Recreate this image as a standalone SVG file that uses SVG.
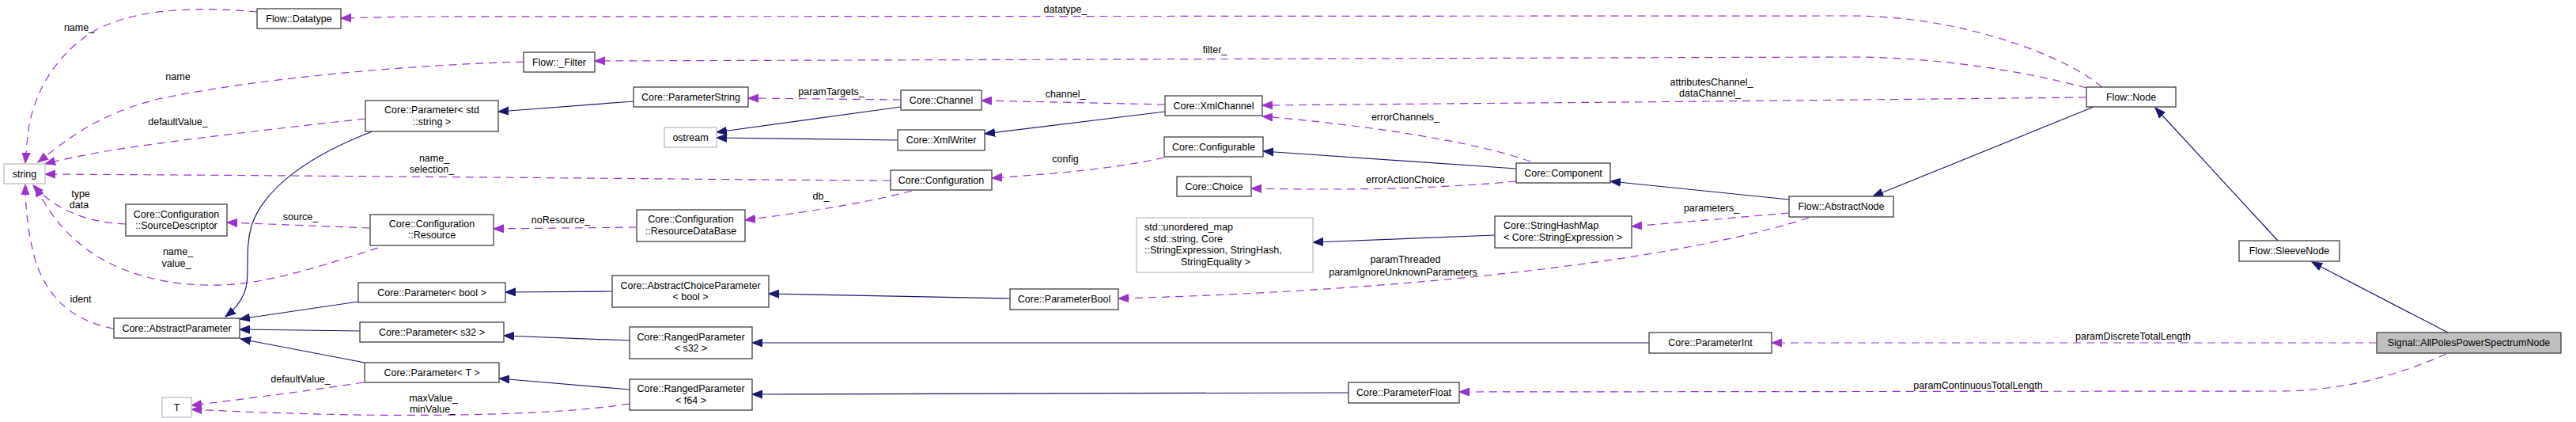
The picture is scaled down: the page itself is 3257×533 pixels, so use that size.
<svg xmlns="http://www.w3.org/2000/svg" width="3257" height="533" viewBox="0 0 3257 533">
<style>
text{font-family:"Liberation Sans",Arial,sans-serif;font-size:12.5px;fill:#000}
.n rect{fill:#fff;stroke:#404040;stroke-width:1.3}
.n text{text-anchor:middle}
.ext rect{stroke:#bfbfbf}
.main rect{fill:#bfbfbf}
.inh{fill:none;stroke:#191970;stroke-width:1.2;marker-end:url(#ab)}
.use{fill:none;stroke:#9a32cd;stroke-width:1.2;stroke-dasharray:10,7;marker-end:url(#ap)}
.lbl text{text-anchor:middle}
.left text{text-anchor:start}
</style>
<defs>
<marker id="ab" markerUnits="userSpaceOnUse" markerWidth="14" markerHeight="12" viewBox="0 0 14 12" refX="13" refY="6" orient="auto"><path d="M0,1 L13,6 L0,11 z" fill="#191970" stroke="#191970" stroke-width="1"/></marker>
<marker id="ap" markerUnits="userSpaceOnUse" markerWidth="14" markerHeight="12" viewBox="0 0 14 12" refX="13" refY="6" orient="auto"><path d="M0,1 L13,6 L0,11 z" fill="#9a32cd" stroke="#9a32cd" stroke-width="1"/></marker>
</defs>
<rect width="3257" height="533" fill="#fff"/>
<g id="edges">
<path class="inh" d="M471,166 C395,195 335,235 318,285 C308,320 318,350 308,372 C302,385 294,393 285,400"/>
<path class="inh" d="M801,128 L630,141"/>
<path class="inh" d="M1139,135 L906,167"/>
<path class="inh" d="M1135,177 L906,174"/>
<path class="inh" d="M1473,141 L1245,169"/>
<path class="inh" d="M1917,213 L1597,191"/>
<path class="inh" d="M2262,252 L2036,229"/>
<path class="inh" d="M2647,135 L2368,248"/>
<path class="inh" d="M2880,304 L2725,136"/>
<path class="inh" d="M3095,420 L2923,331"/>
<path class="inh" d="M1277,377 L972,371"/>
<path class="inh" d="M774,368 L639,369"/>
<path class="inh" d="M453,381 L303,403"/>
<path class="inh" d="M455,418 L303,416"/>
<path class="inh" d="M461,458 L304,428"/>
<path class="inh" d="M796,430 L637,424"/>
<path class="inh" d="M796,492 L631,478"/>
<path class="inh" d="M2085,433 L951,433"/>
<path class="inh" d="M1705,496 L951,498"/>
<path class="inh" d="M1890,297 L1660,306"/>

<path class="use" d="M2658,110 C2610,70 2480,20 2340,20 L520,21 L431,23"/>
<path class="use" d="M325,15 C250,8 160,10 110,45 C60,80 40,130 35,170 L32,206"/>
<path class="use" d="M2638,111 C2560,90 2450,72 2340,72 L752,77"/>
<path class="use" d="M662,78 C520,82 330,98 200,125 C120,145 80,180 48,205"/>
<path class="use" d="M462,150 C350,162 200,180 140,190 C100,197 75,202 57,207"/>
<path class="use" d="M1126,228 C900,227 600,223 57,220"/>
<path class="use" d="M159,283 C110,281 70,265 42,234"/>
<path class="use" d="M478,313 C380,345 320,362 260,360 C150,357 80,310 45,235"/>
<path class="use" d="M144,415 C90,405 60,375 45,330 C35,295 32,260 32,233"/>
<path class="use" d="M468,288 L287,281"/>
<path class="use" d="M805,287 L624,289"/>
<path class="use" d="M1153,241 C1100,255 1040,265 942,278"/>
<path class="use" d="M1139,126 L946,124"/>
<path class="use" d="M1473,132 L1241,127"/>
<path class="use" d="M1472,199 C1400,215 1320,220 1254,225"/>
<path class="use" d="M1935,204 C1870,180 1730,158 1596,147"/>
<path class="use" d="M2638,123 L2160,128 L1596,133"/>
<path class="use" d="M1917,229 C1830,237 1730,241 1582,238"/>
<path class="use" d="M2262,269 L2063,286"/>
<path class="use" d="M2287,275 C2150,320 1850,365 1414,377"/>
<path class="use" d="M3005,433 L2240,433"/>
<path class="use" d="M3093,447 C3030,475 2960,494 2880,494 L1845,495"/>
<path class="use" d="M460,483 C380,495 300,505 242,512"/>
<path class="use" d="M796,510 C700,525 500,530 242,517"/>

<g class="lbl">
<text x="1347" y="16">datatype_</text>
<text x="100" y="39">name_</text>
<text x="1536" y="67">filter_</text>
<text x="225" y="101">name</text>
<text x="225" y="158">defaultValue_</text>
<text x="549" y="204">name_</text>
<text x="546" y="218">selection_</text>
<text x="102" y="249">type</text>
<text x="100" y="263">data</text>
<text x="225" y="322">name_</text>
<text x="223" y="337">value_</text>
<text x="102" y="382">ident</text>
<text x="380" y="278">source_</text>
<text x="709" y="282">noResource_</text>
<text x="1038" y="252">db_</text>
<text x="1051" y="120">paramTargets_</text>
<text x="1347" y="123">channel_</text>
<text x="1347" y="205">config</text>
<text x="1777" y="152">errorChannels_</text>
<text x="2164" y="108">attributesChannel_</text>
<text x="2162" y="122">dataChannel_</text>
<text x="1777" y="231">errorActionChoice</text>
<text x="2164" y="267">parameters_</text>
<text x="1777" y="332">paramThreaded</text>
<text x="1774" y="348">paramIgnoreUnknownParameters</text>
<text x="2697" y="429">paramDiscreteTotalLength</text>
<text x="2501" y="491">paramContinuousTotalLength</text>
<text x="380" y="483">defaultValue_</text>
<text x="548" y="507">maxValue_</text>
<text x="547" y="521">minValue_</text>
</g>
</g>

<g id="n_datatype" class="n"><rect x="325" y="11" width="106" height="25"/><text x="378" y="28">Flow::Datatype</text></g>
<g id="n_string" class="n ext"><rect x="5" y="207" width="52" height="25"/><text x="31" y="224">string</text></g>
<g id="n_filter" class="n"><rect x="662" y="66" width="90" height="25"/><text x="707" y="83">Flow::_Filter</text></g>
<g id="n_paramstring" class="n"><rect x="801" y="110" width="145" height="25"/><text x="873.5" y="127">Core::ParameterString</text></g>
<g id="n_paramstd" class="n"><rect x="462" y="127" width="168" height="39"/><text x="546" y="143">Core::Parameter&lt; std</text><text x="546" y="158">::string &gt;</text></g>
<g id="n_ostream" class="n ext"><rect x="840" y="161" width="66" height="25"/><text x="873" y="178">ostream</text></g>
<g id="n_channel" class="n"><rect x="1139" y="114" width="102" height="25"/><text x="1190" y="131">Core::Channel</text></g>
<g id="n_xmlwriter" class="n"><rect x="1135" y="164" width="110" height="26"/><text x="1190" y="181">Core::XmlWriter</text></g>
<g id="n_configuration" class="n"><rect x="1126" y="215" width="128" height="25"/><text x="1190" y="232">Core::Configuration</text></g>
<g id="n_xmlchannel" class="n"><rect x="1473" y="121" width="123" height="25"/><text x="1534.5" y="138">Core::XmlChannel</text></g>
<g id="n_configurable" class="n"><rect x="1472" y="173" width="125" height="25"/><text x="1534.5" y="190">Core::Configurable</text></g>
<g id="n_choice" class="n"><rect x="1488" y="223" width="94" height="25"/><text x="1535" y="240">Core::Choice</text></g>
<g id="n_component" class="n"><rect x="1917" y="206" width="119" height="25"/><text x="1976.5" y="223">Core::Component</text></g>
<g id="n_flownode" class="n"><rect x="2638" y="110" width="113" height="25"/><text x="2694.5" y="127">Flow::Node</text></g>
<g id="n_abstractnode" class="n"><rect x="2262" y="248" width="132" height="26"/><text x="2328" y="265">Flow::AbstractNode</text></g>
<g id="n_sleevenode" class="n"><rect x="2831" y="304" width="127" height="26"/><text x="2894.5" y="321">Flow::SleeveNode</text></g>
<g id="n_signal" class="n main"><rect x="3005" y="420" width="233" height="26"/><text x="3121.5" y="437">Signal::AllPolesPowerSpectrumNode</text></g>
<g id="n_sourcedesc" class="n"><rect x="159" y="258" width="128" height="40"/><text x="223" y="275">Core::Configuration</text><text x="223" y="289">::SourceDescriptor</text></g>
<g id="n_resource" class="n"><rect x="468" y="271" width="156" height="39"/><text x="546" y="286.5">Core::Configuration</text><text x="546" y="301">::Resource</text></g>
<g id="n_resourcedb" class="n"><rect x="805" y="265" width="137" height="40"/><text x="873.5" y="281">Core::Configuration</text><text x="873.5" y="295.5">::ResourceDataBase</text></g>
<g id="n_unorderedmap" class="n ext left"><rect x="1437" y="275" width="223" height="69"/><text x="1447" y="291">std::unordered_map</text><text x="1447" y="305.5">&lt; std::string, Core</text><text x="1447" y="320">::StringExpression, StringHash,</text><text x="1493" y="335">StringEquality &gt;</text></g>
<g id="n_stringhashmap" class="n left"><rect x="1890" y="273" width="173" height="40"/><text x="1901" y="289">Core::StringHashMap</text><text x="1901" y="303.5">&lt; Core::StringExpression &gt;</text></g>
<g id="n_parambool" class="n"><rect x="1277" y="365" width="137" height="26"/><text x="1345.5" y="382">Core::ParameterBool</text></g>
<g id="n_acp" class="n"><rect x="774" y="348" width="198" height="40"/><text x="873" y="364.5">Core::AbstractChoiceParameter</text><text x="873" y="379">&lt; bool &gt;</text></g>
<g id="n_param_bool" class="n"><rect x="453" y="357" width="186" height="25"/><text x="546" y="374">Core::Parameter&lt; bool &gt;</text></g>
<g id="n_param_s32" class="n"><rect x="455" y="407" width="182" height="25"/><text x="546" y="424">Core::Parameter&lt; s32 &gt;</text></g>
<g id="n_param_T" class="n"><rect x="461" y="458" width="170" height="25"/><text x="546" y="475">Core::Parameter&lt; T &gt;</text></g>
<g id="n_ranged_s32" class="n"><rect x="796" y="413" width="155" height="40"/><text x="873.5" y="429.5">Core::RangedParameter</text><text x="873.5" y="444">&lt; s32 &gt;</text></g>
<g id="n_ranged_f64" class="n"><rect x="796" y="479" width="155" height="39"/><text x="873.5" y="495">Core::RangedParameter</text><text x="873.5" y="509.5">&lt; f64 &gt;</text></g>
<g id="n_paramint" class="n"><rect x="2085" y="420" width="155" height="26"/><text x="2162.5" y="437">Core::ParameterInt</text></g>
<g id="n_paramfloat" class="n"><rect x="1705" y="483" width="140" height="26"/><text x="1775" y="500">Core::ParameterFloat</text></g>
<g id="n_abstractparam" class="n"><rect x="144" y="402" width="159" height="25"/><text x="223.5" y="419">Core::AbstractParameter</text></g>
<g id="n_T" class="n ext"><rect x="205" y="502" width="37" height="25"/><text x="223.5" y="519">T</text></g>
</svg>
